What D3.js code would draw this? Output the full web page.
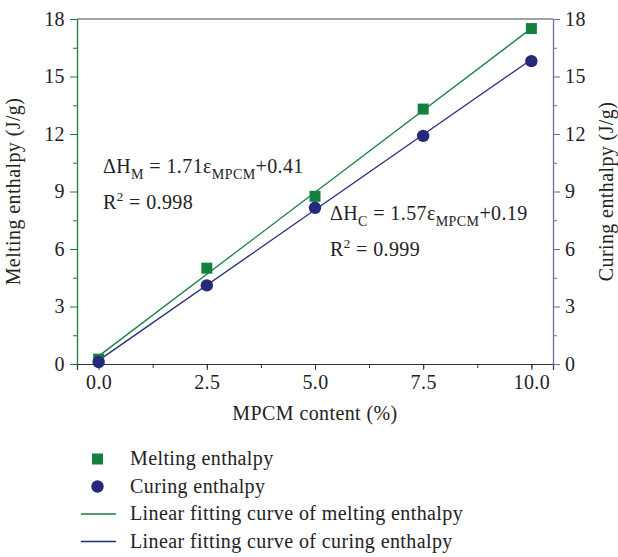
<!DOCTYPE html>
<html>
<head>
<meta charset="UTF-8">
<title>Melting and curing enthalpy vs MPCM content</title>
<script src="https://cdnjs.cloudflare.com/ajax/libs/d3/7.8.5/d3.min.js"></script>
<style>
  body { margin: 0; background: #fff; }
  text { font-family: "Liberation Serif", "DejaVu Serif", serif; fill: #222; letter-spacing: 0.4px; }
</style>
</head>
<body>
<script>
// data
var content = [0, 2.5, 5, 7.5, 10];
var melting = [0.25, 5.0, 8.75, 13.3, 17.5];
var curing = [0.1, 4.1, 8.15, 11.9, 15.8];
// fit coefficients [slope, intercept] as printed on the chart
var fitMelting = [1.71, 0.41];
var fitCuring = [1.57, 0.19];
var xTicks = [0, 2.5, 5, 7.5, 10];
var yTicks = [0, 3, 6, 9, 12, 15, 18];

var green = "#14803f", navy = "#232a7a", rightAxisColor = "#6a6dab";
var fs = "20px";

var margin = {top: 19, right: 65, bottom: 193, left: 77},
    width = 618 - margin.left - margin.right,
    height = 557 - margin.top - margin.bottom;

var x = d3.scaleLinear().domain([-0.5, 10.5]).range([0, width]);
var y = d3.scaleLinear().domain([0, 18]).range([height, 0]);

var svg = d3.select("body").append("svg")
    .attr("width", 618)
    .attr("height", 557)
  .append("g")
    .attr("transform", "translate(" + margin.left + "," + margin.top + ")");

// top border
svg.append("line")
    .attr("x1", 0).attr("x2", width)
    .attr("y1", 0).attr("y2", 0)
    .attr("stroke", "#444").attr("stroke-width", 1.2);

// x axis with minor ticks
svg.append("g")
    .attr("transform", "translate(0," + height + ")")
    .call(d3.axisBottom(x).tickValues(d3.range(0, 10.5, 1.25)).tickSize(4).tickFormat(""))
    .call(function(g) { g.select(".domain").remove(); g.selectAll("line").attr("stroke", "#333"); });
var xAxis = svg.append("g")
    .attr("transform", "translate(0," + height + ")")
    .call(d3.axisBottom(x).tickValues(xTicks).tickSize(6).tickPadding(5).tickFormat(d3.format(".1f")));
xAxis.select(".domain").attr("stroke", "#333").attr("stroke-width", 1.2);
xAxis.selectAll("line").attr("stroke", "#333");
xAxis.selectAll("text").style("font-size", fs).style("font-family", "Liberation Serif, serif").attr("fill", "#222");

// y axes
function yAxisGroup(axisFn, color, offset) {
  var minor = svg.append("g")
      .attr("transform", "translate(" + offset + ",0)")
      .call(axisFn(y).tickValues(d3.range(1.5, 18, 3)).tickSize(4).tickFormat(""));
  minor.select(".domain").remove();
  minor.selectAll("line").attr("stroke", color);
  var g = svg.append("g")
      .attr("transform", "translate(" + offset + ",0)")
      .call(axisFn(y).tickValues(yTicks).tickSize(7).tickSizeOuter(0).tickPadding(5));
  g.select(".domain").attr("stroke", color).attr("stroke-width", 1.3);
  g.selectAll("line").attr("stroke", color);
  g.selectAll("text").style("font-size", fs).style("font-family", "Liberation Serif, serif").attr("fill", "#222");
  return g;
}
yAxisGroup(d3.axisLeft, green, 0);
yAxisGroup(d3.axisRight, rightAxisColor, width);

// axis titles
svg.append("text")
    .attr("transform", "translate(" + (-57) + "," + (height / 2) + ") rotate(-90)")
    .attr("text-anchor", "middle")
    .style("font-size", fs)
    .text("Melting enthalpy (J/g)");
svg.append("text")
    .attr("transform", "translate(" + (width + 60) + "," + (height / 2) + ") rotate(-90)")
    .attr("text-anchor", "middle")
    .style("font-size", fs)
    .text("Curing enthalpy (J/g)");
svg.append("text")
    .attr("x", x(5)).attr("y", height + 56)
    .attr("text-anchor", "middle")
    .style("font-size", fs)
    .text("MPCM content (%)");

// fit lines
function fitLine(coef, color) {
  var ends = [content[0], content[content.length - 1]];
  svg.append("line")
      .attr("x1", x(ends[0])).attr("y1", y(coef[0] * ends[0] + coef[1]))
      .attr("x2", x(ends[1])).attr("y2", y(coef[0] * ends[1] + coef[1]))
      .attr("stroke", color).attr("stroke-width", 1.3);
}
fitLine(fitMelting, green);
fitLine(fitCuring, navy);

// points
var s = 11;
svg.selectAll(".sq").data(content).enter().append("rect")
    .attr("x", function(d) { return x(d) - s / 2; })
    .attr("y", function(d, i) { return y(melting[i]) - s / 2; })
    .attr("width", s).attr("height", s)
    .attr("fill", green);
svg.selectAll(".ci").data(content).enter().append("circle")
    .attr("cx", function(d) { return x(d); })
    .attr("cy", function(d, i) { return y(curing[i]); })
    .attr("r", 6.2)
    .attr("fill", navy);

// annotations
function equation(xp, yp, sub, slope, icpt, r2) {
  var t = svg.append("text").attr("x", xp).attr("y", yp).style("font-size", fs);
  t.append("tspan").text("\u0394H");
  t.append("tspan").attr("dy", 6).style("font-size", "14px").text(sub);
  t.append("tspan").attr("dy", -6).text(" = " + slope + "\u03b5");
  t.append("tspan").attr("dy", 6).style("font-size", "14px").text("MPCM");
  t.append("tspan").attr("dy", -6).text("+" + icpt);
  var r = svg.append("text").attr("x", xp).attr("y", yp + 36).style("font-size", fs);
  r.append("tspan").text("R");
  r.append("tspan").attr("dy", -8).style("font-size", "13px").text("2");
  r.append("tspan").attr("dy", 8).text(" = " + r2);
}
equation(26, 154, "M", fitMelting[0].toFixed(2), fitMelting[1].toFixed(2), "0.998");
equation(253, 201, "C", fitCuring[0].toFixed(2), fitCuring[1].toFixed(2), "0.999");

// legend
var legend = [
  {label: "Melting enthalpy", type: "square", color: green},
  {label: "Curing enthalpy", type: "circle", color: navy},
  {label: "Linear fitting curve of melting enthalpy", type: "line", color: green},
  {label: "Linear fitting curve of curing enthalpy", type: "line", color: navy}
];
var lg = svg.selectAll(".lg").data(legend).enter().append("g")
    .attr("transform", function(d, i) { return "translate(0," + (440 + i * 27.5) + ")"; });
lg.each(function(d) {
  var g = d3.select(this);
  if (d.type === "square") g.append("rect").attr("x", 15).attr("y", -5.5).attr("width", 11).attr("height", 11).attr("fill", d.color);
  else if (d.type === "circle") g.append("circle").attr("cx", 20.5).attr("cy", 0).attr("r", 6.2).attr("fill", d.color);
  else g.append("line").attr("x1", 4).attr("x2", 39).attr("y1", 0).attr("y2", 0).attr("stroke", d.color).attr("stroke-width", 1.3);
});
lg.append("text").attr("x", 53).attr("y", 6).style("font-size", fs).text(function(d) { return d.label; });
</script>
</body>
</html>
